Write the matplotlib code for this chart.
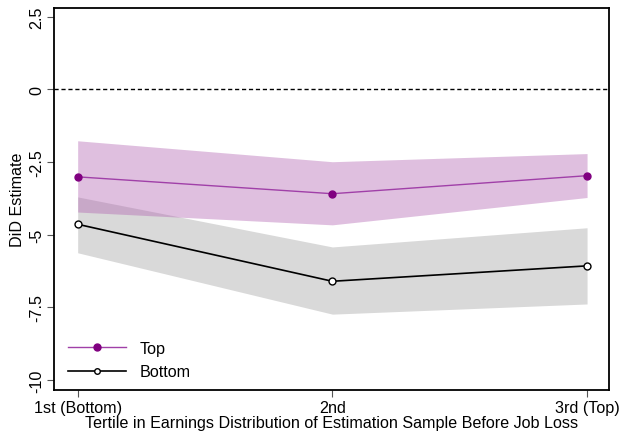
import matplotlib as mpl
mpl.use('Agg')
import matplotlib.pyplot as plt
from matplotlib.lines import Line2D

tertiles = ["1st (Bottom)", "2nd", "3rd (Top)"]
pos = [1, 2, 3]

top_est = [-3.01, -3.59, -2.97]
top_lo = [-4.22, -4.66, -3.72]
top_hi = [-1.77, -2.49, -2.21]

bot_est = [-4.64, -6.60, -6.07]
bot_lo = [-5.62, -7.73, -7.38]
bot_hi = [-3.70, -5.42, -4.76]

yticks = [2.5, 0, -2.5, -5, -7.5, -10]
ytick_labels = ["2.5", "0", "-2.5", "-5", "-7.5", "-10"]

plt.rcParams['font.family'] = ['Liberation Sans', 'DejaVu Sans']
fs = 11.6

fig = plt.figure(figsize=(6.19, 4.35), dpi=100)
ax = fig.add_axes([0.0872, 0.101, 0.897, 0.878])

ax.fill_between(pos, bot_lo, bot_hi, color='#d9d9d9', lw=0, zorder=1)
ax.fill_between(pos, top_lo, top_hi, color='#b060b0', alpha=0.4, lw=0, zorder=2)

ax.axhline(0, color='black', lw=1, ls=(0, (3, 2)), zorder=3)

ax.plot(pos, top_est, color='#a040a8', lw=1, marker='o', ms=5,
        mfc='#800080', mec='#800080', zorder=4)
ax.plot(pos, bot_est, color='black', lw=1.2, marker='o', ms=5,
        mfc='white', mec='black', mew=1, zorder=4)

ax.set_xlim(0.907, 3.087)
ax.set_ylim(-10.34, 2.79)
ax.set_xticks(pos)
ax.set_xticklabels(tertiles, fontsize=fs)
ax.set_yticks(yticks)
ax.set_yticklabels(ytick_labels, rotation=90, va='center', fontsize=fs)
ax.tick_params(length=5, width=0.8, color='#555555', pad=2)
ax.set_xlabel("Tertile in Earnings Distribution of Estimation Sample Before Job Loss",
              fontsize=fs, labelpad=0)
ax.set_ylabel("DiD Estimate", fontsize=fs, labelpad=3)
for s in ax.spines.values():
    s.set_linewidth(1.3)

handles = [
    Line2D([], [], color='#a040a8', lw=1, marker='o', ms=5, mfc='#800080', mec='#800080'),
    Line2D([], [], color='black', lw=1.2, marker='o', ms=4, mfc='white', mec='black'),
]
ax.legend(handles, ["Top", "Bottom"], loc='lower left', frameon=False,
          fontsize=fs, handlelength=3.6, handletextpad=0.8,
          bbox_to_anchor=(0.0, -0.01), borderaxespad=0.5, labelspacing=0.55)

fig.savefig('out.png', dpi=100)
